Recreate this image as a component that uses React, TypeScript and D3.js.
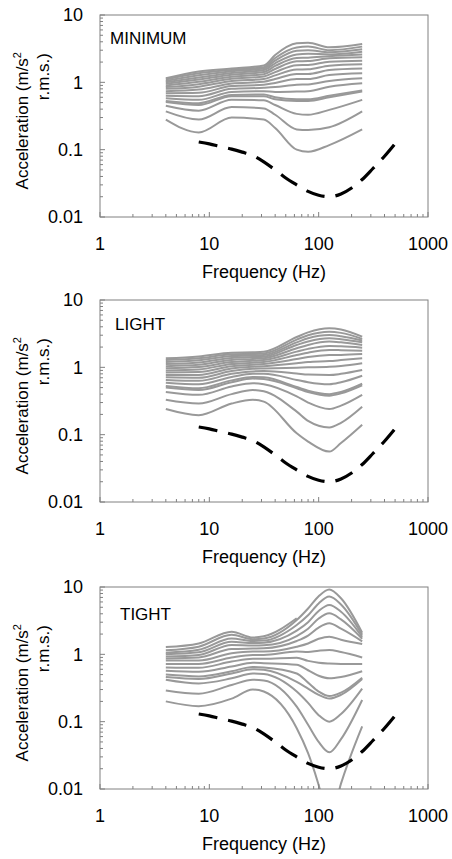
import React from 'react';
import * as d3 from 'd3';

const xTickValues = [1, 10, 100, 1000];
const xTickLabels = ['1', '10', '100', '1000'];
const yTickValues = [10, 1, 0.1, 0.01];
const yTickLabels = ['10', '1', '0.1', '0.01'];

const panelTitles = ['MINIMUM', 'LIGHT', 'TIGHT'];

// threshold (dashed) curve
const thresholdFreq = [8, 10, 12.5, 16, 20, 25, 31.5, 40, 50, 63, 80, 100, 125, 160, 200, 250, 315, 400, 500];
const thresholdValues = [0.13, 0.122, 0.112, 0.102, 0.092, 0.082, 0.066, 0.05, 0.038, 0.03, 0.024, 0.021, 0.02, 0.022, 0.027, 0.036, 0.053, 0.08, 0.123];

// MINIMUM panel
const minimumFreq = [4, 8, 16, 31.5, 40, 63, 80, 125, 250];
const minimumSeries = [
  [0.28, 0.18, 0.30, 0.28, 0.21, 0.10, 0.093, 0.117, 0.20],
  [0.37, 0.28, 0.43, 0.41, 0.33, 0.20, 0.196, 0.215, 0.37],
  [0.45, 0.38, 0.55, 0.54, 0.46, 0.34, 0.33, 0.39, 0.55],
  [0.51, 0.46, 0.62, 0.62, 0.56, 0.53, 0.53, 0.60, 0.73],
  [0.53, 0.49, 0.65, 0.66, 0.60, 0.56, 0.56, 0.63, 0.76],
  [0.58, 0.55, 0.72, 0.74, 0.72, 0.73, 0.74, 0.86, 0.97],
  [0.63, 0.62, 0.80, 0.83, 0.85, 0.92, 0.93, 1.05, 1.15],
  [0.69, 0.70, 0.88, 0.92, 0.98, 1.12, 1.12, 1.28, 1.36],
  [0.74, 0.78, 0.96, 1.02, 1.12, 1.33, 1.33, 1.52, 1.60],
  [0.80, 0.86, 1.05, 1.12, 1.27, 1.55, 1.56, 1.77, 1.85],
  [0.85, 0.94, 1.13, 1.22, 1.42, 1.80, 1.81, 2.03, 2.10],
  [0.90, 1.02, 1.21, 1.32, 1.58, 2.05, 2.07, 2.27, 2.35],
  [0.95, 1.10, 1.30, 1.42, 1.75, 2.30, 2.32, 2.45, 2.60],
  [1.00, 1.18, 1.38, 1.52, 1.92, 2.60, 2.65, 2.60, 2.85],
  [1.05, 1.27, 1.46, 1.60, 2.10, 2.95, 3.00, 2.80, 3.09],
  [1.10, 1.36, 1.53, 1.68, 2.30, 3.30, 3.40, 3.00, 3.39],
  [1.15, 1.45, 1.60, 1.78, 2.55, 3.80, 3.88, 3.31, 3.71],
];

// LIGHT panel
const lightFreq = [4, 8, 16, 25, 31.5, 63, 80, 125, 160, 250];
const lightSeries = [
  [0.24, 0.195, 0.29, 0.33, 0.31, 0.105, 0.079, 0.056, 0.075, 0.14],
  [0.33, 0.29, 0.40, 0.46, 0.44, 0.22, 0.16, 0.128, 0.15, 0.26],
  [0.43, 0.39, 0.52, 0.58, 0.56, 0.37, 0.30, 0.24, 0.27, 0.39],
  [0.50, 0.46, 0.60, 0.68, 0.67, 0.49, 0.43, 0.38, 0.41, 0.54],
  [0.53, 0.49, 0.64, 0.72, 0.71, 0.51, 0.45, 0.40, 0.43, 0.57],
  [0.59, 0.56, 0.72, 0.80, 0.80, 0.65, 0.60, 0.56, 0.60, 0.75],
  [0.65, 0.63, 0.80, 0.87, 0.88, 0.81, 0.78, 0.77, 0.80, 0.91],
  [0.71, 0.70, 0.88, 0.95, 0.96, 0.99, 1.00, 1.02, 1.05, 1.15],
  [0.77, 0.77, 0.96, 1.02, 1.04, 1.15, 1.20, 1.24, 1.28, 1.36],
  [0.84, 0.85, 1.04, 1.09, 1.12, 1.33, 1.42, 1.52, 1.53, 1.58],
  [0.90, 0.93, 1.12, 1.17, 1.20, 1.52, 1.65, 1.81, 1.80, 1.77],
  [0.97, 1.01, 1.20, 1.25, 1.28, 1.71, 1.88, 2.08, 2.05, 1.96],
  [1.04, 1.09, 1.29, 1.33, 1.36, 1.92, 2.15, 2.41, 2.35, 2.15],
  [1.12, 1.18, 1.38, 1.42, 1.44, 2.15, 2.42, 2.70, 2.62, 2.35],
  [1.20, 1.27, 1.47, 1.50, 1.52, 2.35, 2.70, 3.02, 2.90, 2.50],
  [1.28, 1.36, 1.56, 1.58, 1.60, 2.58, 3.00, 3.39, 3.25, 2.65],
  [1.36, 1.45, 1.65, 1.67, 1.70, 2.82, 3.30, 3.80, 3.65, 2.85],
];

// TIGHT panel
const tightFreq = [4, 8, 16, 25, 31.5, 63, 80, 100, 125, 160, 250];
const tightSeries = [
  [0.20, 0.17, 0.22, 0.30, 0.28, 0.08, 0.034, 0.0115, 0.003, 0.012, 0.085],
  [0.29, 0.26, 0.35, 0.42, 0.41, 0.167, 0.09, 0.05, 0.035, 0.055, 0.21],
  [0.42, 0.37, 0.44, 0.52, 0.51, 0.28, 0.19, 0.125, 0.10, 0.13, 0.31],
  [0.46, 0.43, 0.52, 0.60, 0.59, 0.39, 0.31, 0.25, 0.22, 0.25, 0.43],
  [0.50, 0.47, 0.56, 0.65, 0.64, 0.52, 0.38, 0.28, 0.24, 0.27, 0.45],
  [0.57, 0.55, 0.66, 0.75, 0.74, 0.70, 0.58, 0.48, 0.44, 0.46, 0.56],
  [0.64, 0.63, 0.78, 0.86, 0.86, 0.89, 0.80, 0.75, 0.73, 0.72, 0.72],
  [0.72, 0.72, 0.90, 0.98, 0.98, 1.10, 1.08, 1.13, 1.16, 1.08, 0.90],
  [0.81, 0.81, 1.04, 1.10, 1.10, 1.30, 1.45, 1.70, 1.83, 1.65, 1.42],
  [0.87, 0.90, 1.20, 1.22, 1.23, 1.58, 1.90, 2.50, 2.89, 2.40, 1.56],
  [0.93, 0.98, 1.38, 1.35, 1.36, 1.87, 2.40, 3.40, 4.06, 3.30, 1.70],
  [1.00, 1.07, 1.54, 1.47, 1.49, 2.25, 3.00, 4.40, 5.40, 4.30, 1.82],
  [1.06, 1.17, 1.72, 1.58, 1.60, 2.73, 3.80, 5.70, 7.20, 5.50, 1.95],
  [1.15, 1.30, 1.95, 1.68, 1.72, 3.24, 4.80, 7.30, 9.20, 6.80, 2.10],
  [1.28, 1.45, 2.17, 1.78, 1.85, 3.43],
];

const panelFreqs = [minimumFreq, lightFreq, tightFreq];
const panelSeries = [minimumSeries, lightSeries, tightSeries];

const W = 452;
const H = 859;
const panelOffsets = [0, 285, 572];
const titlePos = [[110, 44], [115, 45], [120, 48]];
const PL = 100, PR = 428, PT = 15, PB = 217;
const FONT = '"Liberation Sans", Arial, sans-serif';
const AXIS = '#808080';
const CURVE = '#999999';

function Panel({ index }: { index: number }) {
  const x = d3.scaleLog().domain([1, 1000]).range([PL, PR]);
  const y = d3.scaleLog().domain([0.01, 10]).range([PB, PT]);
  const line = d3
    .line<[number, number]>()
    .x((d) => x(d[0]))
    .y((d) => y(d[1]))
    .curve(d3.curveMonotoneX);
  const freq = panelFreqs[index];
  const series = panelSeries[index];
  const clipId = `clip-${index}`;
  const minorX: number[] = [];
  [1, 10, 100].forEach((dec) => {
    for (let k = 2; k <= 9; k++) minorX.push(dec * k);
  });
  const minorY: number[] = [];
  [0.01, 0.1, 1].forEach((dec) => {
    for (let k = 2; k <= 9; k++) minorY.push(dec * k);
  });
  const thr = thresholdFreq.map((f, i) => [f, thresholdValues[i]] as [number, number]);
  return (
    <g transform={`translate(0,${panelOffsets[index]})`}>
      <defs>
        <clipPath id={clipId}>
          <rect x={PL} y={PT} width={PR - PL} height={PB - PT} />
        </clipPath>
      </defs>
      <g clipPath={`url(#${clipId})`}>
        {series.map((vals, si) => {
          const pts = vals.map((v, i) => [freq[i], v] as [number, number]);
          return (
            <path key={si} d={line(pts) || ''} fill="none" stroke={CURVE} strokeWidth={2} strokeLinejoin="round" />
          );
        })}
        <path d={line(thr) || ''} fill="none" stroke="#000" strokeWidth={3.2} strokeDasharray="19 11" />
      </g>
      <rect x={PL} y={PT} width={PR - PL} height={PB - PT} fill="none" stroke={AXIS} strokeWidth={1} />
      {minorX.map((v, i) => (
        <line key={'mx' + i} x1={x(v)} x2={x(v)} y1={PB} y2={PB - 3} stroke={AXIS} strokeWidth={1} />
      ))}
      {xTickValues.map((v, i) => (
        <line key={'Mx' + i} x1={x(v)} x2={x(v)} y1={PB} y2={PB - 5} stroke={AXIS} strokeWidth={1} />
      ))}
      {minorY.map((v, i) => (
        <line key={'my' + i} x1={PL} x2={PL + 3} y1={y(v)} y2={y(v)} stroke={AXIS} strokeWidth={1} />
      ))}
      {yTickValues.map((v, i) => (
        <line key={'My' + i} x1={PL} x2={PL + 5} y1={y(v)} y2={y(v)} stroke={AXIS} strokeWidth={1} />
      ))}
      {xTickValues.map((v, i) => (
        <text key={'xl' + i} x={x(v)} y={250} textAnchor="middle" fontFamily={FONT} fontSize={18} fill="#000">
          {xTickLabels[i]}
        </text>
      ))}
      {yTickValues.map((v, i) => (
        <text key={'yl' + i} x={83} y={y(v)} dy="0.36em" textAnchor="end" fontFamily={FONT} fontSize={18} fill="#000">
          {yTickLabels[i]}
        </text>
      ))}
      <text x={(PL + PR) / 2} y={278} textAnchor="middle" fontFamily={FONT} fontSize={18} fill="#000">
        Frequency (Hz)
      </text>
      <text transform="translate(28,52) rotate(-90)" textAnchor="end" fontFamily={FONT} fontSize={17} fill="#000">
        Acceleration (m/s<tspan fontSize={11} dy={-7}>2</tspan>
      </text>
      <text transform="translate(49,53) rotate(-90)" textAnchor="end" fontFamily={FONT} fontSize={17} fill="#000">
        r.m.s.)
      </text>
      <text x={titlePos[index][0]} y={titlePos[index][1]} fontFamily={FONT} fontSize={17} fill="#000">
        {panelTitles[index]}
      </text>
    </g>
  );
}

export default function App() {
  return (
    <svg
      width={W}
      height={H}
      viewBox={`0 0 ${W} ${H}`}
      style={{ position: 'absolute', left: 0, top: 0, background: '#fff' }}
    >
      <rect x={0} y={0} width={W} height={H} fill="#fff" />
      {[0, 1, 2].map((i) => (
        <Panel key={i} index={i} />
      ))}
    </svg>
  );
}
